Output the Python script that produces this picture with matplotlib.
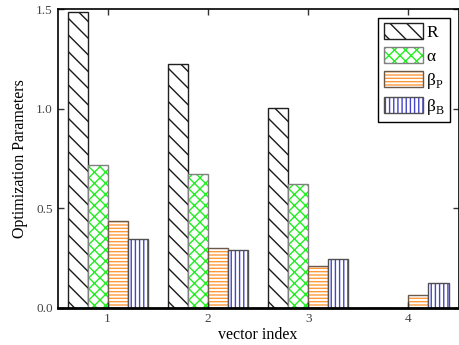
import numpy as np
import matplotlib
matplotlib.use("Agg")
import matplotlib.pyplot as plt
from matplotlib.patches import Patch
from matplotlib.legend_handler import HandlerTuple

plt.rcParams["font.family"] = ["Liberation Serif", "DejaVu Serif"]
plt.rcParams["mathtext.fontset"] = "custom"
plt.rcParams["mathtext.rm"] = "Liberation Serif"
plt.rcParams["hatch.linewidth"] = 1.0

vectors = [1, 2, 3, 4]
R_vals = [1.485, 1.228, 1.004, 0.0]
alpha_vals = [0.718, 0.675, 0.620, 0.0]
betaP_vals = [0.437, 0.302, 0.212, 0.066]
betaB_vals = [0.348, 0.292, 0.243, 0.126]

series = [
    ("R", R_vals, "#1a1a1a", "\\\\", "#202020"),
    ("α", alpha_vals, "#22ee22", "xxx", "#808080"),
    (r"β$_\mathrm{P}$", betaP_vals, "#ff9a3a", "-----", "#6b5a4a"),
    (r"β$_\mathrm{B}$", betaB_vals, "#4444cc", "||||", "#505050"),
]

fig = plt.figure(figsize=(4.59, 3.45), dpi=100)
ax = fig.add_axes([0.1253, 0.108, 0.8737, 0.8645])

x = np.array(vectors, dtype=float)
width = 0.2
handles = []
labels = []
for i, (name, vals, hcol, hatch, ecol) in enumerate(series):
    pos = x + (i - 1.5) * width
    ax.bar(pos, vals, width, color="white", edgecolor=hcol, hatch=hatch,
           linewidth=0)
    ax.bar(pos, vals, width, fill=False, edgecolor=ecol, linewidth=1.0)
    h1 = Patch(facecolor="white", edgecolor=hcol, hatch=hatch, linewidth=0)
    h2 = Patch(fill=False, edgecolor=ecol, linewidth=1.0)
    handles.append((h1, h2))
    labels.append(name)

ax.set_xlim(0.5, 4.5)
ax.set_ylim(0, 1.5)
ax.set_xticks(vectors)
ax.set_yticks([0.0, 0.5, 1.0, 1.5])
ax.set_yticklabels(["0.0", "0.5", "1.0", "1.5"])
ax.tick_params(direction="in", top=True, right=True, labelsize=9.5,
               length=4, width=1, colors="#333333", labelcolor="#444444")
for sp in ax.spines.values():
    sp.set_linewidth(1.2)
ax.spines["bottom"].set_linewidth(2)

ax.set_xlabel("vector index", fontsize=11.5, labelpad=2)
ax.set_ylabel("Optimization Parameters", fontsize=11.5, labelpad=6)

leg = ax.legend(handles, labels, handler_map={tuple: HandlerTuple(ndivide=1)},
                loc="upper right", fontsize=12.5, handlelength=2.25,
                handleheight=1.0, labelspacing=0.35, handletextpad=0.2,
                borderpad=0.3, borderaxespad=0.5, fancybox=False,
                framealpha=1, edgecolor="black")
leg.get_frame().set_linewidth(1.0)

fig.savefig("out.png", dpi=100)
